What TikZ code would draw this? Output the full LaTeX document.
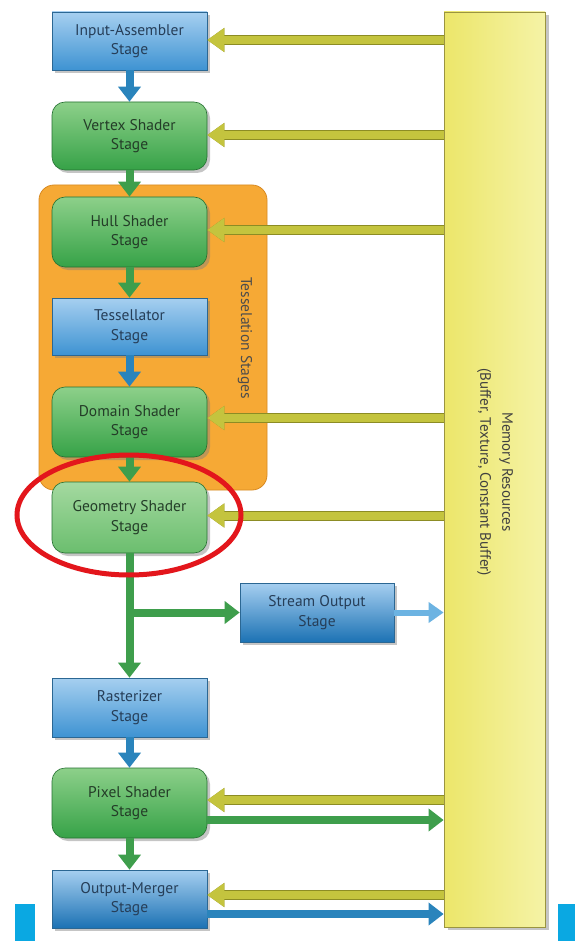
\documentclass[tikz,border=0pt]{standalone}
\usepackage{fontspec}
\setmainfont{PT Sans}
\usetikzlibrary{arrows.meta,shadows,positioning,calc}
\definecolor{bluetop}{HTML}{A6CFF0}
\definecolor{bluebot}{HTML}{3E93D2}
\definecolor{bluedeep}{HTML}{1C72B4}
\definecolor{greentop}{HTML}{8DD08A}
\definecolor{greenbot}{HTML}{36A247}
\definecolor{ltgreentop}{HTML}{A4D9A0}
\definecolor{ltgreenbot}{HTML}{6BBE6E}
\definecolor{ycol}{HTML}{C4C43E}
\definecolor{ydark}{HTML}{8C8C24}
\definecolor{gcol}{HTML}{3E9E4C}
\definecolor{bcol}{HTML}{2A84BC}
\definecolor{lbcol}{HTML}{6CB3E2}
\definecolor{orangefill}{HTML}{F6A935}
\definecolor{orangeedge}{HTML}{D88A22}
\definecolor{memleft}{HTML}{ECE66A}
\definecolor{memright}{HTML}{F5F3A6}
\definecolor{memedge}{HTML}{9A9440}
\definecolor{redring}{HTML}{E3161C}
\definecolor{cyanbar}{HTML}{0AA8E2}
\definecolor{txtblue}{HTML}{263E58}
\definecolor{txtgreen}{HTML}{243D28}
\tikzset{
  stagefont/.style={font=\fontsize{15.5}{19.5}\selectfont, align=center},
  bluebox/.style={stagefont, text=txtblue, minimum width=155pt, minimum height=58pt, inner sep=0pt,
    top color=bluetop, bottom color=bluebot, draw=bluebot!70!black, line width=0.6pt,
    drop shadow={shadow xshift=3pt, shadow yshift=-3pt, opacity=0.45}},
  deepbox/.style={bluebox, bottom color=bluedeep},
  greenbox/.style={stagefont, text=txtgreen, minimum width=155pt, minimum height=70pt, inner sep=0pt,
    rounded corners=13pt, top color=greentop, bottom color=greenbot, draw=greenbot!70!black, line width=0.6pt,
    drop shadow={shadow xshift=3pt, shadow yshift=-3pt, opacity=0.45}},
  ltgreenbox/.style={greenbox, top color=ltgreentop, bottom color=ltgreenbot},
  yarrow/.style={draw=ycol, line width=8pt, preaction={draw=ydark, line width=10pt, -{Triangle[length=17pt,width=23pt]}}, -{Triangle[length=17pt,width=23pt]}},
  garrow/.style={draw=gcol, line width=8pt, -{Triangle[length=15pt,width=22pt]}},
  barrow/.style={draw=bcol, line width=8pt, -{Triangle[length=15pt,width=22pt]}},
  lbarrow/.style={draw=lbcol, line width=6pt, -{Triangle[length=15pt,width=20pt]}},
}
\begin{document}
\begin{tikzpicture}[x=1pt,y=-1pt]
\useasboundingbox (0,0) rectangle (575,941);
\fill[white] (0,0) rectangle (575,941);
% memory
\node[draw=memedge, line width=0.8pt, left color=memleft, right color=memright,
  minimum width=101pt, minimum height=915pt, inner sep=0pt,
  drop shadow={shadow xshift=4pt, shadow yshift=-3pt, opacity=0.45}] (mem) at (494.5,469.5) {};
\node[rotate=-90, font=\fontsize{15}{22}\selectfont, align=center, text=black!75] (memtxt) at (495,472)
  {Memory Resources\\(Buffer, Texture, Constant Buffer)};
% tessellation group
\node[draw=orangeedge, fill=orangefill, line width=0.8pt, rounded corners=15pt,
  minimum width=228pt, minimum height=305pt, inner sep=0pt] (tess) at (153,337.5) {};
\node[rotate=-90, font=\fontsize{15.5}{18}\selectfont, text=black!70] (tesstxt) at (245,338) {Tesselation Stages};
% stages
\node[bluebox] (ia) at (129.5,41) {Input-Assembler\\Stage};
\node[greenbox, minimum height=68pt] (vs) at (129.5,136) {Vertex Shader\\Stage};
\node[greenbox] (hs) at (129.5,232) {Hull Shader\\Stage};
\node[bluebox, minimum height=57pt] (ts) at (129.5,326.5) {Tessellator\\Stage};
\node[greenbox] (ds) at (129.5,422) {Domain Shader\\Stage};
\node[ltgreenbox, minimum height=71pt] (gs) at (129.5,517.5) {Geometry Shader\\Stage};
\node[deepbox, minimum width=154pt, minimum height=59pt] (so) at (317,612.5) {Stream Output\\Stage};
\node[bluebox, minimum height=59pt] (rs) at (129.5,707.5) {Rasterizer\\Stage};
\node[greenbox] (ps) at (129.5,803) {Pixel Shader\\Stage};
\node[deepbox] (om) at (129.5,899) {Output-Merger\\Stage};
% pipeline arrows
\draw[barrow] (ia.south) -- (vs.north);
\draw[garrow] (vs.south) -- (hs.north);
\draw[garrow] (hs.south) -- (ts.north);
\draw[barrow] (ts.south) -- (ds.north);
\draw[garrow] (ds.south) -- (gs.north);
\draw[garrow] (gs.south) -- (rs.north);
\coordinate (branch) at (gs.south |- so.west);
\draw[garrow] (branch) -- (so.west);
\draw[lbarrow] (so.east) -- (mem.west |- so.east);
\draw[barrow] (rs.south) -- (ps.north);
\draw[garrow] (ps.south) -- (om.north);
% memory read arrows
\draw[yarrow] ([yshift=1pt]mem.west |- ia.east) -- ([yshift=1pt]ia.east);
\draw[yarrow] ([yshift=1pt]mem.west |- vs.east) -- ([yshift=1pt]vs.east);
\draw[yarrow] ([yshift=2pt]mem.west |- hs.east) -- ([yshift=2pt]hs.east);
\draw[yarrow] ([yshift=4pt]mem.west |- ds.east) -- ([yshift=4pt]ds.east);
\draw[yarrow] ([yshift=2pt]mem.west |- gs.east) -- ([yshift=2pt]gs.east);
\draw[yarrow] ([yshift=3pt]mem.west |- ps.east) -- ([yshift=3pt]ps.east);
\draw[garrow] ([yshift=-17pt]ps.east) -- ([yshift=-17pt]mem.west |- ps.east);
\draw[yarrow] ([yshift=4pt]mem.west |- om.east) -- ([yshift=4pt]om.east);
\draw[barrow] ([yshift=-15pt]om.east) -- ([yshift=-15pt]mem.west |- om.east);
% highlight ring
\draw[redring, line width=5pt] (129,515) ellipse [x radius=112pt, y radius=60pt];
% corner bars
\fill[cyanbar] (15,904) rectangle (35,941);
\fill[cyanbar] (558,904) rectangle (575,941);
\end{tikzpicture}
\end{document}
